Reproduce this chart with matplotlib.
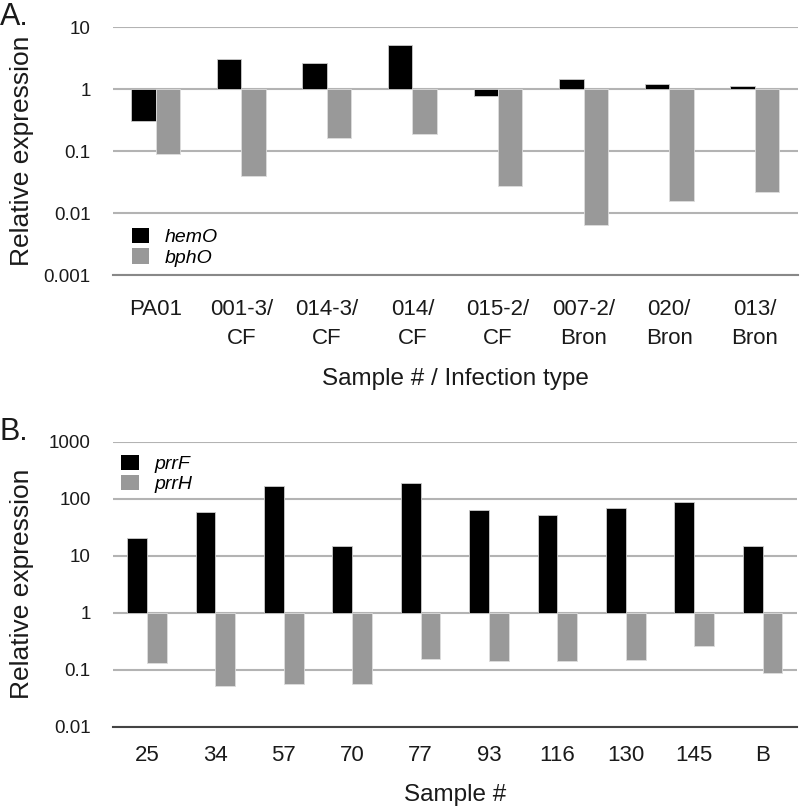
import matplotlib
matplotlib.use('Agg')
import matplotlib.pyplot as plt
from matplotlib.patches import Patch
import numpy as np

# Panel A data
samplesA = ['PA01', '001-3/\nCF', '014-3/\nCF', '014/\nCF', '015-2/\nCF',
            '007-2/\nBron', '020/\nBron', '013/\nBron']
hemO = [0.31, 3.05, 2.65, 5.1, 0.78, 1.47, 1.2, 1.1]
bphO = [0.089, 0.0395, 0.16, 0.19, 0.0275, 0.0064, 0.0155, 0.0216]
ticksA = [0.001, 0.01, 0.1, 1, 10]

# Panel B data
samplesB = ['25', '34', '57', '70', '77', '93', '116', '130', '145', 'B']
prrF = [20.7, 59, 167, 15, 188, 63, 52, 69, 87, 15]
prrH = [0.133, 0.052, 0.055, 0.055, 0.154, 0.142, 0.142, 0.148, 0.257, 0.0875]
ticksB = [0.01, 0.1, 1, 10, 100, 1000]

plt.rcParams['font.family'] = ['Liberation Sans', 'DejaVu Sans']

BLACK = '#000000'
GRAY = '#999999'
GRID = '#b3b3b3'
TXT = '#1a1a1a'


def draw_panel(ax, cats, up, down, ticks, width, labels, xlabel, xpad, lpad,
               axcolor):
    x = np.arange(len(cats))
    up = np.array(up)
    down = np.array(down)
    ax.set_yscale('log')
    # bars grow up or down from 1
    ax.bar(x - width / 2, up - 1, bottom=1, width=width, color=BLACK,
           edgecolor='#cccccc', linewidth=0.6, zorder=3)
    ax.bar(x + width / 2, down - 1, bottom=1, width=width, color=GRAY,
           edgecolor='#dddddd', linewidth=0.6, zorder=3)
    ax.set_ylim(ticks[0], ticks[-1])
    ax.set_xlim(-0.5, len(cats) - 0.5)
    ax.minorticks_off()
    ax.set_yticks(ticks)
    ax.set_yticklabels(['{:g}'.format(t) for t in ticks], fontsize=13.5, color=TXT)
    ax.set_xticks(x)
    ax.set_xticklabels(cats, fontsize=16, linespacing=1.5, color=TXT)
    ax.tick_params(axis='both', length=0)
    ax.tick_params(axis='y', pad=16)
    ax.tick_params(axis='x', pad=xpad)
    ax.yaxis.grid(True, color=GRID, linewidth=1.5, zorder=0)
    for s in ['top', 'right', 'left']:
        ax.spines[s].set_visible(False)
    ax.spines['bottom'].set_color(axcolor)
    ax.spines['bottom'].set_linewidth(1.5)
    ax.set_xlabel(xlabel, fontsize=17.5, labelpad=lpad, color=TXT)
    handles = [Patch(facecolor=BLACK, label=labels[0]),
               Patch(facecolor=GRAY, label=labels[1])]
    return handles


fig = plt.figure(figsize=(8, 8.06), dpi=100)

axA = fig.add_axes([0.141, 0.6588, 0.856, 0.3077])
h = draw_panel(axA, samplesA, hemO, bphO, ticksA, 0.286, ['hemO', 'bphO'],
               'Sample # / Infection type', 17, 14, '#888888')
axA.legend(handles=h, loc='upper left', bbox_to_anchor=(0.028, 0.19),
           frameon=False, prop={'style': 'italic', 'size': 14},
           handlelength=0.9, handleheight=0.85, handletextpad=0.8,
           labelspacing=0.1, borderaxespad=0, borderpad=0)

axB = fig.add_axes([0.141, 0.0984, 0.855, 0.3536])
h = draw_panel(axB, samplesB, prrF, prrH, ticksB, 0.29, ['prrF', 'prrH'],
               'Sample #', 13, 13, '#444444')
axB.legend(handles=h, loc='upper left', bbox_to_anchor=(0.012, 0.955),
           frameon=False, prop={'style': 'italic', 'size': 14},
           handlelength=0.9, handleheight=0.85, handletextpad=0.8,
           labelspacing=0.1, borderaxespad=0, borderpad=0)

fig.text(22 / 800, 1 - 151 / 806, 'Relative expression', rotation=90,
         ha='center', va='center', fontsize=19, color=TXT)
fig.text(22 / 800, 1 - 584 / 806, 'Relative expression', rotation=90,
         ha='center', va='center', fontsize=19, color=TXT)
fig.text(0.0, 1 - 17 / 806, 'A.', ha='left', va='center', fontsize=22, color=TXT)
fig.text(0.0, 1 - 432 / 806, 'B.', ha='left', va='center', fontsize=22, color=TXT)

fig.savefig('out.png', dpi=100)
